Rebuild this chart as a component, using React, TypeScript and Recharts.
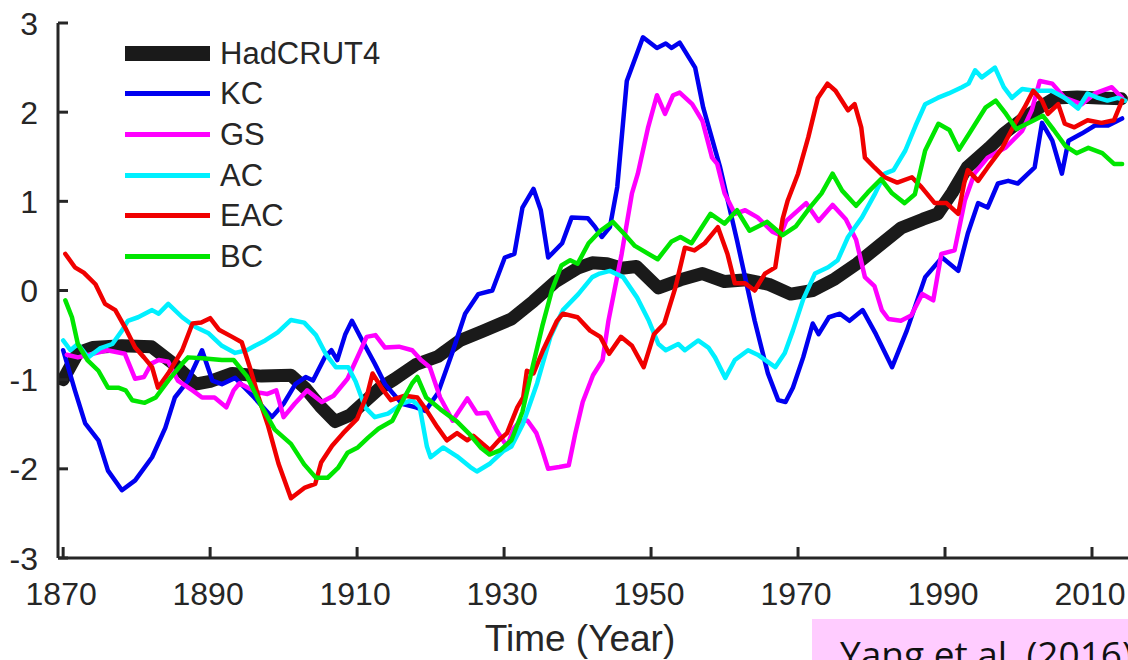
import { LineChart, Line, XAxis, YAxis, Legend } from "recharts";

// temperature-like anomaly series, [year, value]
const hadcrut4: [number, number][] = [
  [1870, -1.0], [1872, -0.7], [1874, -0.64], [1878, -0.62], [1882, -0.63], [1885, -0.82],
  [1888, -1.05], [1890, -1.02], [1893, -0.93], [1897, -0.96], [1901, -0.95], [1903, -1.1],
  [1905, -1.3], [1907, -1.47], [1909, -1.4], [1911, -1.25], [1913, -1.1], [1915, -1.0],
  [1918, -0.83], [1921, -0.74], [1924, -0.56], [1927, -0.46], [1931, -0.32], [1934, -0.12],
  [1937, 0.1], [1940, 0.25], [1942, 0.31], [1944, 0.3], [1946, 0.25], [1948, 0.27],
  [1951, 0.03], [1954, 0.12], [1957, 0.19], [1960, 0.1], [1963, 0.12], [1966, 0.07],
  [1969, -0.04], [1972, 0.0], [1975, 0.13], [1978, 0.3], [1981, 0.5], [1984, 0.7],
  [1987, 0.8], [1989, 0.86], [1991, 1.1], [1993, 1.38], [1996, 1.6], [1998, 1.76],
  [2001, 1.95], [2003, 2.06], [2005, 2.16], [2008, 2.17], [2011, 2.16], [2014, 2.15],
];

const kc: [number, number][] = [
  [1870, -0.67], [1871.6, -1.12], [1873, -1.49], [1874.8, -1.68], [1876.1, -2.02], [1878, -2.24],
  [1879.8, -2.13], [1882.1, -1.87], [1883.9, -1.54], [1885.2, -1.2], [1887, -1.01], [1888.9, -0.67],
  [1890.3, -1.01], [1891.6, -1.05], [1893.4, -0.98], [1896, -1.2], [1898.4, -1.42], [1900, -1.27],
  [1901.6, -1.05], [1903, -0.97], [1904, -1.01], [1905.6, -0.75], [1906.5, -0.67], [1907.3, -0.78],
  [1908.4, -0.49], [1909.3, -0.34], [1910.7, -0.56], [1912.4, -0.82], [1913.8, -1.05], [1916.1, -1.27],
  [1918, -1.31], [1919.3, -1.35], [1921, -1.15], [1922.9, -0.71], [1924.7, -0.26], [1926.5, -0.04],
  [1928.4, 0.0], [1930.1, 0.37], [1931.4, 0.41], [1932.5, 0.93], [1934, 1.14], [1935, 0.9],
  [1936, 0.37], [1937.9, 0.53], [1939.2, 0.82], [1941.4, 0.81], [1942.4, 0.71], [1943.3, 0.6],
  [1944.4, 0.71], [1945.4, 1.16], [1946.7, 2.35], [1948.9, 2.84], [1950.8, 2.72], [1952, 2.77],
  [1952.8, 2.72], [1953.9, 2.78], [1956, 2.5], [1957.1, 2.05], [1959.4, 1.38], [1961.7, 0.56],
  [1964.1, -0.34], [1965.9, -0.93], [1967.3, -1.23], [1968.3, -1.25], [1969.3, -1.09], [1970.7, -0.75],
  [1972, -0.37], [1972.8, -0.49], [1974.2, -0.3], [1975.7, -0.26], [1977, -0.34], [1978.8, -0.22],
  [1980.6, -0.49], [1982.8, -0.86], [1984.8, -0.45], [1987.3, 0.15], [1989.6, 0.37], [1991.8, 0.22],
  [1993.1, 0.64], [1994.5, 0.98], [1995.8, 0.93], [1997.2, 1.2], [1998.6, 1.23], [1999.9, 1.2],
  [2002.2, 1.38], [2003.2, 1.88], [2004.6, 1.68], [2005.9, 1.31], [2006.8, 1.68], [2008.6, 1.76],
  [2010.4, 1.85], [2012.2, 1.85], [2014.1, 1.93],
];

const gs: [number, number][] = [
  [1870.5, -0.72], [1872, -0.75], [1876, -0.67], [1878.4, -0.71], [1879.8, -0.99], [1881, -0.97],
  [1882, -0.82], [1883, -0.78], [1884.3, -0.8], [1885.6, -1.01], [1887.6, -1.12], [1888.9, -1.2],
  [1890.6, -1.2], [1892.2, -1.31], [1893.2, -1.12], [1894, -1.04], [1896.3, -1.14], [1897.8, -1.16],
  [1899, -1.12], [1900, -1.42], [1901.5, -1.27], [1903.2, -1.12], [1905.2, -1.25], [1906.8, -1.18],
  [1908.7, -0.99], [1910.2, -0.72], [1911.3, -0.52], [1912.5, -0.5], [1913.8, -0.64], [1915.7, -0.63],
  [1917.5, -0.67], [1918.7, -0.78], [1919.9, -0.86], [1921.3, -1.2], [1923, -1.46], [1925, -1.21],
  [1926.3, -1.38], [1927.7, -1.37], [1929, -1.57], [1930.4, -1.75], [1931.3, -1.55], [1932.2, -1.46],
  [1933.2, -1.46], [1934.4, -1.6], [1935.2, -1.79], [1936, -2.0], [1937.5, -1.98], [1938.8, -1.96],
  [1939.7, -1.6], [1940.7, -1.25], [1942.1, -0.95], [1943.4, -0.78], [1944.2, -0.34], [1946, 0.41],
  [1947.4, 1.09], [1948.2, 1.31], [1949.6, 1.83], [1950.8, 2.19], [1951.9, 1.98], [1953, 2.19],
  [1953.9, 2.22], [1955.6, 2.09], [1957, 1.9], [1958.3, 1.49], [1959, 1.42], [1960, 1.09],
  [1961.4, 0.86], [1962.8, 0.9], [1964.5, 0.82], [1966.5, 0.66], [1967.6, 0.62], [1968.4, 0.78],
  [1971.1, 0.98], [1972.8, 0.78], [1974.7, 0.96], [1976.5, 0.8], [1977.9, 0.57], [1979.1, 0.15],
  [1980.4, 0.05], [1981.4, -0.22], [1982.3, -0.32], [1984, -0.34], [1985.4, -0.28], [1986.9, -0.04],
  [1988.4, -0.11], [1989.5, 0.41], [1991.3, 0.45], [1992.7, 1.01], [1994, 1.31], [1995.8, 1.49],
  [1998.2, 1.6], [2000.5, 1.79], [2001.8, 2.02], [2002.9, 2.35], [2004.6, 2.32], [2006.3, 2.16],
  [2008.6, 2.09], [2010.4, 2.21], [2012.7, 2.28], [2014.1, 2.16],
];

const ac: [number, number][] = [
  [1870, -0.56], [1871, -0.67], [1872, -0.6], [1873.4, -0.75], [1875, -0.65], [1876.7, -0.6],
  [1878, -0.45], [1878.8, -0.34], [1880.2, -0.3], [1882.1, -0.22], [1883, -0.26], [1884.3, -0.15],
  [1886.2, -0.3], [1888, -0.41], [1889.8, -0.48], [1891.6, -0.62], [1893.4, -0.7], [1895, -0.67],
  [1896.1, -0.62], [1897.5, -0.56], [1899.2, -0.47], [1901, -0.33], [1902.8, -0.36], [1904.4, -0.5],
  [1905.8, -0.72], [1907.1, -0.86], [1908.8, -0.86], [1909.8, -1.02], [1911.1, -1.31], [1912.4, -1.42],
  [1914.2, -1.38], [1916.1, -1.27], [1917.5, -1.23], [1918.5, -1.3], [1919.5, -1.75], [1920, -1.87],
  [1921.7, -1.76], [1923.6, -1.86], [1925.4, -1.98], [1926.3, -2.03], [1928.1, -1.94], [1929.9, -1.8],
  [1931, -1.75], [1932.6, -1.49], [1934.5, -1.04], [1936.3, -0.52], [1938, -0.22], [1940.1, -0.04],
  [1942, 0.15], [1943, 0.19], [1944.4, 0.22], [1946.2, 0.15], [1948.1, -0.08], [1949.7, -0.34],
  [1951, -0.6], [1952, -0.67], [1953.7, -0.6], [1954.6, -0.67], [1956.4, -0.56], [1957.8, -0.64],
  [1958.7, -0.75], [1960.1, -0.98], [1961.4, -0.78], [1963.2, -0.67], [1964.5, -0.72], [1966.9, -0.86],
  [1968.2, -0.7], [1969.3, -0.45], [1970.7, -0.1], [1972.3, 0.19], [1974.1, 0.26], [1975.4, 0.34],
  [1976.8, 0.6], [1978.7, 0.82], [1980.5, 1.09], [1981.8, 1.31], [1983, 1.35], [1984.6, 1.57],
  [1986, 1.85], [1987.3, 2.09], [1989, 2.16], [1990.5, 2.21], [1992.3, 2.28], [1993.2, 2.32],
  [1994.1, 2.47], [1995, 2.39], [1996.8, 2.5], [1998, 2.28], [1999.1, 2.16], [2000.5, 2.26],
  [2002.2, 2.24], [2004.5, 2.24], [2006.3, 2.16], [2008.1, 2.04], [2009.4, 2.21], [2010.8, 2.16],
  [2012.1, 2.13], [2013.5, 2.16], [2014.5, 2.13],
];

const eac: [number, number][] = [
  [1870.3, 0.41], [1871.6, 0.26], [1872.8, 0.2], [1874.4, 0.07], [1875.7, -0.15], [1877.1, -0.22],
  [1878.4, -0.41], [1879.8, -0.64], [1881, -0.75], [1882.1, -0.86], [1882.9, -1.09], [1884.3, -0.93],
  [1886.2, -0.67], [1887.6, -0.37], [1888.8, -0.36], [1890, -0.31], [1891.2, -0.44], [1893, -0.52],
  [1894.3, -0.58], [1895.4, -0.86], [1896.6, -1.2], [1897.9, -1.52], [1899.3, -1.94], [1901, -2.33],
  [1902.9, -2.21], [1904.3, -2.17], [1905.1, -1.93], [1906.6, -1.74], [1908.1, -1.6], [1910, -1.44],
  [1911.4, -1.16], [1912.1, -0.93], [1913.4, -1.1], [1914.6, -1.23], [1916.5, -1.18], [1918.2, -1.2],
  [1919.5, -1.35], [1920.9, -1.53], [1922.2, -1.68], [1923.6, -1.6], [1925, -1.68], [1925.8, -1.63],
  [1927.1, -1.72], [1928.1, -1.79], [1929.3, -1.68], [1930.4, -1.6], [1931.8, -1.31], [1932.6, -1.2],
  [1933.1, -0.9], [1934, -0.93], [1935.3, -0.67], [1937.2, -0.34], [1938, -0.26], [1940, -0.3],
  [1941.7, -0.45], [1943.1, -0.52], [1944.3, -0.71], [1945.9, -0.52], [1947.4, -0.62], [1949, -0.86],
  [1950.4, -0.49], [1951.8, -0.37], [1953.3, 0.03], [1954.6, 0.48], [1955.9, 0.45], [1957.3, 0.53],
  [1959.1, 0.71], [1960.4, 0.41], [1961.4, 0.08], [1962.8, 0.08], [1964.1, 0.0], [1965.5, 0.19],
  [1966.9, 0.26], [1967.9, 0.8], [1968.6, 1.01], [1970, 1.31], [1971.4, 1.72], [1972.7, 2.16],
  [1974, 2.32], [1975.1, 2.24], [1976.8, 2.02], [1977.7, 2.09], [1978.6, 1.83], [1979.1, 1.49],
  [1980.4, 1.38], [1981.8, 1.27], [1983.5, 1.21], [1985.5, 1.27], [1986.8, 1.16], [1988.6, 0.98],
  [1990.2, 0.98], [1991.8, 0.86], [1992.6, 1.2], [1993.1, 1.35], [1994.5, 1.23], [1995.8, 1.38],
  [1997.8, 1.6], [1999.5, 1.87], [2000.8, 2.05], [2002, 2.24], [2003.2, 2.13], [2004, 1.98],
  [2005.4, 2.09], [2006.3, 1.87], [2007.6, 1.83], [2009.4, 1.91], [2011.3, 1.88], [2013, 1.91],
  [2014.1, 2.13],
];

const bc: [number, number][] = [
  [1870.3, -0.11], [1871.2, -0.3], [1872, -0.6], [1873.3, -0.78], [1874.8, -0.9], [1876.1, -1.09],
  [1877.5, -1.09], [1878.5, -1.12], [1879.4, -1.23], [1881.1, -1.26], [1882.6, -1.2], [1884.3, -1.01],
  [1886.2, -0.82], [1887, -0.75], [1888.9, -0.76], [1891.6, -0.78], [1893.2, -0.78], [1895, -0.96],
  [1897, -1.3], [1898.8, -1.56], [1901, -1.72], [1902.8, -1.95], [1904.4, -2.1], [1906, -2.1],
  [1907.4, -1.99], [1908.7, -1.82], [1910.1, -1.76], [1911.5, -1.65], [1912.9, -1.55], [1914.8, -1.46],
  [1916.1, -1.25], [1917.5, -1.04], [1918.2, -0.97], [1919.4, -1.2], [1921.3, -1.33], [1923.6, -1.47],
  [1925.4, -1.62], [1926.8, -1.76], [1928, -1.84], [1929.5, -1.79], [1931, -1.68], [1932.5, -1.36],
  [1933.9, -0.85], [1935.2, -0.4], [1936.5, 0.0], [1937.8, 0.28], [1939, 0.34], [1940, 0.3],
  [1941.5, 0.53], [1943.1, 0.67], [1944.8, 0.77], [1946.3, 0.64], [1947.8, 0.5], [1950.9, 0.35],
  [1952.8, 0.55], [1954, 0.6], [1955.5, 0.53], [1958.1, 0.86], [1960, 0.75], [1961.7, 0.9],
  [1963.4, 0.67], [1965.8, 0.77], [1967.9, 0.62], [1969.7, 0.72], [1971.6, 0.93], [1973.2, 1.09],
  [1974.7, 1.31], [1976, 1.12], [1977.9, 0.95], [1979.5, 1.1], [1981.3, 1.25], [1982.8, 1.09],
  [1984.5, 0.98], [1985.9, 1.08], [1987.3, 1.57], [1989.1, 1.87], [1990.6, 1.8], [1991.9, 1.58],
  [1993.3, 1.76], [1995.5, 2.05], [1996.9, 2.13], [1998.3, 1.98], [1999.7, 1.81], [2001.9, 1.9],
  [2003.3, 1.96], [2004.8, 1.8], [2006.4, 1.62], [2007.9, 1.54], [2009.5, 1.6], [2011.4, 1.54],
  [2013, 1.42], [2014.1, 1.42],
];

const xTicks = [1870, 1890, 1910, 1930, 1950, 1970, 1990, 2010];
const yTicks = [-3, -2, -1, 0, 1, 2, 3];

const AXIS = "#262626";
const FONT = "'Liberation Sans', Arial, Helvetica, sans-serif";

// plotted in this order (black first, green on top), legend keeps it too
const SERIES = [
  { name: "HadCRUT4", pts: hadcrut4, color: "#1a1a1a", width: 13 },
  { name: "KC", pts: kc, color: "#0000f0", width: 4.5 },
  { name: "GS", pts: gs, color: "#ff00ff", width: 4.5 },
  { name: "AC", pts: ac, color: "#00f0ff", width: 4.5 },
  { name: "EAC", pts: eac, color: "#f00000", width: 4.5 },
  { name: "BC", pts: bc, color: "#00e600", width: 4.5 },
];

const toRows = (pts: [number, number][]) => pts.map(([year, v]) => ({ year, v }));

const YTick = ({ x, y, payload }: any) => (
  <g>
    <line x1={x + 20} x2={x + 30} y1={y} y2={y} stroke={AXIS} strokeWidth={3} />
    <text x={x} y={y} dy="0.36em" textAnchor="end" fontSize={32} fill={AXIS} fontFamily={FONT}>
      {payload.value}
    </text>
  </g>
);

const XTick = ({ x, y, payload }: any) => (
  <g>
    <line x1={x} x2={x} y1={y - 24} y2={y - 35} stroke={AXIS} strokeWidth={3} />
    <text x={x - 2} y={y} dy="0.71em" textAnchor="middle" fontSize={32} fill={AXIS} fontFamily={FONT}>
      {payload.value}
    </text>
  </g>
);

// custom legend: keep the plotting order instead of the alphabetical default
const renderLegend = () => (
  <div style={{ fontFamily: FONT }}>
    {SERIES.map((s) => (
      <div key={s.name} style={{ display: "flex", alignItems: "center", height: 40.6 }}>
        <div style={{ width: 85, height: s.width > 6 ? 15 : 5, background: s.color }} />
        <span style={{ marginLeft: 10, fontSize: 31, color: AXIS, lineHeight: 1 }}>{s.name}</span>
      </div>
    ))}
  </div>
);

export default function App() {
  return (
    <div style={{ position: "absolute", left: 0, top: 0, width: 1128, height: 660, background: "#fff", overflow: "hidden" }}>
      <LineChart width={1128} height={660} margin={{ top: 23, right: 0, left: 8, bottom: 0 }}>
        <XAxis
          type="number"
          dataKey="year"
          domain={[1869.3, 2014.9]}
          allowDataOverflow
          ticks={xTicks}
          height={102}
          tickSize={0}
          tickMargin={24}
          tickLine={false}
          axisLine={{ stroke: AXIS, strokeWidth: 3 }}
          tick={<XTick />}
        />
        <YAxis
          type="number"
          domain={[-3, 3]}
          ticks={yTicks}
          width={50}
          tickSize={0}
          tickMargin={20}
          tickLine={false}
          axisLine={{ stroke: AXIS, strokeWidth: 3 }}
          tick={<YTick />}
        />
        <Legend
          layout="vertical"
          align="center"
          verticalAlign="middle"
          content={renderLegend}
          wrapperStyle={{ left: 125, top: 33, width: 300, height: 250 }}
        />
        {SERIES.map((s) => (
          <Line
            key={s.name}
            name={s.name}
            data={toRows(s.pts)}
            dataKey="v"
            type="linear"
            stroke={s.color}
            strokeWidth={s.width}
            strokeLinejoin="round"
            strokeLinecap="round"
            dot={false}
            activeDot={false}
            isAnimationActive={false}
          />
        ))}
      </LineChart>
      <svg width={1128} height={660} style={{ position: "absolute", left: 0, top: 0, pointerEvents: "none" }}>
        <text x={580} y={651} textAnchor="middle" fontSize={37} fill={AXIS} fontFamily={FONT}>
          Time (Year)
        </text>
        <rect x={812} y={619} width={330} height={60} fill="#ffccff" />
        <text x={840} y={668} fontSize={37} fill="#111" fontFamily="'Open Sans', sans-serif">
          Yang et al. (2016)
        </text>
      </svg>
    </div>
  );
}
